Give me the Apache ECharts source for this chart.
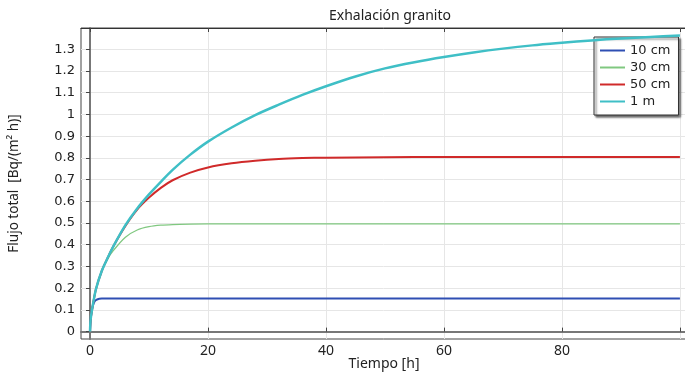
<!DOCTYPE html>
<html>
<head>
<meta charset="utf-8">
<script src="https://cdn.jsdelivr.net/npm/echarts@6/dist/echarts.min.js"></script>
<style>
  html, body { margin: 0; padding: 0; background: #fff; }
  #chart { width: 685px; height: 376px; }
</style>
</head>
<body>
<div id="chart"></div>
<script>
// Exhalación granito: flujo total vs tiempo, for four depths
const seriesNames = ["10 cm", "30 cm", "50 cm", "1 m"];

const xTicks = [0, 20, 40, 60, 80, 100];
const xLabels = [0, 20, 40, 60, 80];
const yTicks = [0, 0.1, 0.2, 0.3, 0.4, 0.5, 0.6, 0.7, 0.8, 0.9, 1, 1.1, 1.2, 1.3];

const t10cm = [0, 0.1, 0.25, 0.5, 0.8, 1.2, 2, 4, 10, 30, 60, 100];
const flux10cm = [0, 0.05, 0.09, 0.12, 0.14, 0.148, 0.152, 0.153, 0.153, 0.153, 0.153, 0.153];

const t30cm = [0, 0.1, 0.4, 1, 2, 3, 4, 6, 8, 10, 12, 14, 17, 20, 30, 60, 100];
const flux30cm = [0, 0.055, 0.11, 0.195, 0.28, 0.335, 0.375, 0.435, 0.468, 0.483, 0.49, 0.493, 0.495, 0.496, 0.496, 0.496, 0.496];

const t50cm = [0, 0.1, 0.4, 1, 2, 3, 4, 6, 8, 10, 12, 14, 17, 20, 24, 28, 32, 36, 40, 50, 60, 80, 100];
const flux50cm = [0, 0.055, 0.11, 0.195, 0.28, 0.34, 0.395, 0.487, 0.562, 0.617, 0.662, 0.697, 0.732, 0.756, 0.775, 0.787, 0.795, 0.799, 0.801, 0.803, 0.804, 0.804, 0.804];

const t1m = [0, 0.1, 0.4, 1, 2, 3, 4, 6, 8, 10, 12, 14, 17, 20, 24, 28, 32, 36, 40, 45, 50, 55, 60, 65, 70, 75, 80, 85, 90, 95, 100];
const flux1m = [0, 0.055, 0.11, 0.195, 0.28, 0.34, 0.395, 0.49, 0.567, 0.632, 0.69, 0.745, 0.815, 0.875, 0.94, 0.997, 1.045, 1.09, 1.13, 1.175, 1.212, 1.24, 1.264, 1.285, 1.303, 1.318, 1.33, 1.341, 1.35, 1.357, 1.363];

const colors = ["#2f4fb3", "#80c880", "#d02a2a", "#3fbfc6"];
const widths = [2, 1.3, 2, 2.5];

const pairs = (xs, ys) => xs.map((x, i) => [x, ys[i]]);
const dataSets = [pairs(t10cm, flux10cm), pairs(t30cm, flux30cm), pairs(t50cm, flux50cm), pairs(t1m, flux1m)];

const chart = echarts.init(document.getElementById("chart"), null, { renderer: "canvas" });

const gridLine = { show: true, lineStyle: { color: "#e6e6e6", width: 1 } };
const xRange = { min: -1.53, max: 101.2 };
const yRange = { min: -0.034, max: 1.398 };

chart.setOption({
  animation: false,
  title: {
    text: "Exhalación granito",
    left: 385, top: 4, textAlign: "center",
    textStyle: { fontFamily: "Noto Sans", fontSize: 14, fontWeight: "normal", color: "#222" },
  },
  grid: {
    left: 81, top: 28, right: -2, bottom: 37,
    outerBoundsMode: "none", containLabel: false,
    show: true, borderColor: "#444", borderWidth: 1,
  },
  legend: {
    data: seriesNames,
    orient: "vertical",
    left: 594, top: 37,
    padding: [6, 8, 6, 6],
    icon: "rect",
    itemWidth: 25, itemHeight: 2, itemGap: 2,
    backgroundColor: "#fff",
    borderColor: "#333", borderWidth: 1, borderRadius: 0,
    shadowColor: "rgba(0,0,0,0.6)", shadowBlur: 2, shadowOffsetX: 2, shadowOffsetY: 2,
    textStyle: { fontFamily: "DejaVu Sans", fontSize: 13, color: "#222", lineHeight: 15 },
  },
  xAxis: [
    {
      type: "value", ...xRange,
      name: "Tiempo [h]", nameLocation: "middle", nameGap: 18, nameMoveOverlap: false,
      nameTextStyle: { fontFamily: "Noto Sans", fontSize: 14, color: "#222" },
      axisLine: { show: true, lineStyle: { color: "#777", width: 2 } },
      axisTick: { show: true, inside: true, length: 4, customValues: xTicks, lineStyle: { color: "#444" } },
      axisLabel: { customValues: xLabels, margin: 5, fontFamily: "Noto Sans", fontSize: 14, color: "#222" },
      splitLine: gridLine,
    },
    {
      type: "value", position: "top", ...xRange,
      axisLine: { show: true, lineStyle: { color: "#333", width: 1 } },
      axisTick: { show: true, inside: true, length: 4, customValues: xTicks, lineStyle: { color: "#444" } },
      axisLabel: { show: false },
      splitLine: { show: false },
    },
  ],
  yAxis: [
    {
      type: "value", ...yRange,
      name: "Flujo total  [Bq/(m\u00b2 h)]", nameLocation: "middle", nameGap: 60, nameMoveOverlap: false,
      nameTextStyle: { fontFamily: "Noto Sans", fontSize: 13.5, color: "#222" },
      axisLine: { show: true, lineStyle: { color: "#777", width: 2 } },
      axisTick: { show: true, inside: false, length: 4, customValues: yTicks, lineStyle: { color: "#444" } },
      axisLabel: {
        customValues: yTicks, margin: 6, fontFamily: "DejaVu Sans", fontSize: 13, color: "#222",
        formatter: (v) => String(Math.round(v * 10) / 10),
      },
      splitLine: gridLine,
    },
  ],
  series: seriesNames.map((name, i) => ({
    name,
    type: "line",
    xAxisIndex: 0,
    data: dataSets[i],
    smooth: 0.3,
    symbol: "none",
    showSymbol: false,
    lineStyle: { color: colors[i], width: widths[i] },
    itemStyle: { color: colors[i] },
    z: 2 + i,
  })),
});
</script>
</body>
</html>
